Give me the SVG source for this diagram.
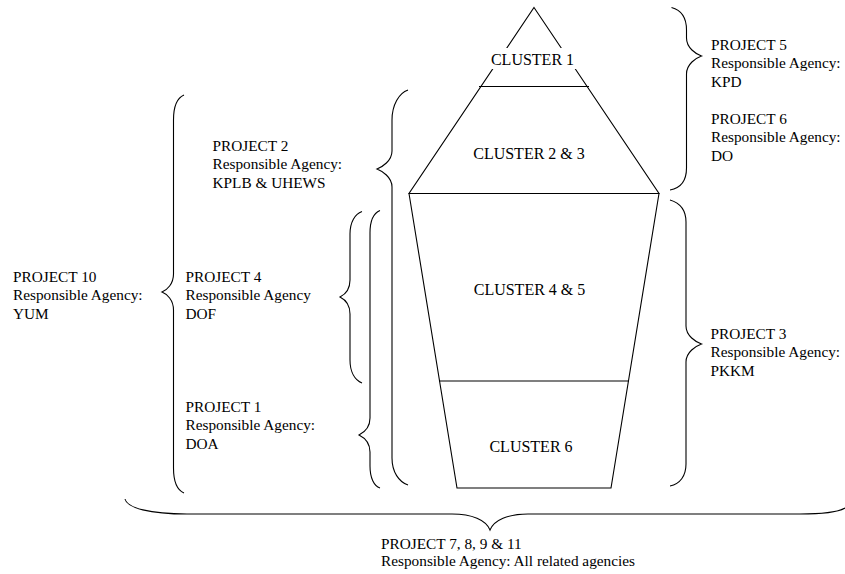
<svg xmlns="http://www.w3.org/2000/svg" width="845" height="574" viewBox="0 0 845 574">
<style>
.ln{fill:none;stroke:#000;stroke-width:1.1}
.br{fill:none;stroke:#000;stroke-width:1.1}
text{font-family:"Liberation Serif","Times New Roman",serif;font-size:15.3px;fill:#000}
.c{text-anchor:middle;font-size:16px}
</style>
<rect width="845" height="574" fill="#fff"/>
<g id="pyramid-top">
<polygon class="ln" points="534,7.5 659,193.5 409,193.5"/>
<line class="ln" x1="479" y1="86.5" x2="589" y2="86.5"/>
</g>
<g id="pyramid-bottom">
<polyline class="ln" points="409,193.5 457,488 611,488 659,193.5"/>
<line class="ln" x1="439" y1="381" x2="629" y2="381"/>
</g>
<g id="cluster1"><rect x="487" y="48" width="94" height="21" fill="#fff"/><text class="c" x="532.5" y="65">CLUSTER 1</text></g>
<g id="cluster23"><text class="c" x="529" y="158.5">CLUSTER 2 &amp; 3</text></g>
<g id="cluster45"><text class="c" x="529.5" y="295">CLUSTER 4 &amp; 5</text></g>
<g id="cluster6"><text class="c" x="531" y="451.5">CLUSTER 6</text></g>
<g id="braces">
<path class="br" d="M184,95 C177,98 173.5,108 173.5,120 L173.5,274 C173.5,284 167,290 162,292 C167,294 173.5,300 173.5,310 L173.5,468 C173.5,480 177,490 184,493"/>
<path class="br" d="M408,90 C399,93 392,105 392,120 L392,151 C392,161 382,167 377,169 C382,171 392,177 392,187 L392,458 C392,472 399,482 408,485"/>
<path class="br" d="M362,211.5 C355,214 350,222 350,234 L350,280 C350,290 344,295 340,297 C344,299 350,304 350,314 L350,360 C350,372 355,380 362,383"/>
<path class="br" d="M380,210.5 C374,213 370,221 370,233 L370,418 C370,428 363,433 359,435 C363,437 370,442 370,452 L370,466 C370,478 374,486 380,488"/>
<path class="br" d="M671.5,7.5 C681,10 686.5,18 686.5,30 L686.5,38 C686.5,48 696,54 701.5,56 C696,58 686.5,64 686.5,74 L686.5,168 C686.5,180 681,188 670,190"/>
<path class="br" d="M670,200 C680,203 686,210 686,222 L686,326 C686,336 696,342 701.5,344 C696,346 686,352 686,362 L686,464 C686,476 680,484 670,486"/>
<path class="br" d="M125,499 C127,508 150,514 187,514 L452,514 C472,514 486,520 490,530 C494,520 508,514 528,514 L800,514 C820,514 838,512 845,508"/>
</g>
<g id="project10"><text x="13" y="281.5">PROJECT 10</text><text x="13" y="300">Responsible Agency:</text><text x="13" y="318.5">YUM</text></g>
<g id="project2"><text x="212.5" y="150.5">PROJECT 2</text><text x="212.5" y="169">Responsible Agency:</text><text x="212.5" y="187.5">KPLB &amp; UHEWS</text></g>
<g id="project4"><text x="185.5" y="281.5">PROJECT 4</text><text x="185.5" y="300">Responsible Agency</text><text x="185.5" y="318.5">DOF</text></g>
<g id="project1"><text x="185.5" y="411.5">PROJECT 1</text><text x="185.5" y="430">Responsible Agency:</text><text x="185.5" y="448.5">DOA</text></g>
<g id="project5"><text x="711" y="49.5">PROJECT 5</text><text x="711" y="68">Responsible Agency:</text><text x="711" y="86.5">KPD</text></g>
<g id="project6"><text x="711" y="123.5">PROJECT 6</text><text x="711" y="142">Responsible Agency:</text><text x="711" y="160.5">DO</text></g>
<g id="project3"><text x="710.5" y="338.5">PROJECT 3</text><text x="710.5" y="357">Responsible Agency:</text><text x="710.5" y="375.5">PKKM</text></g>
<g id="project7"><text x="381" y="548.5">PROJECT 7, 8, 9 &amp; 11</text><text x="381" y="565.5">Responsible Agency: All related agencies</text></g>
</svg>
